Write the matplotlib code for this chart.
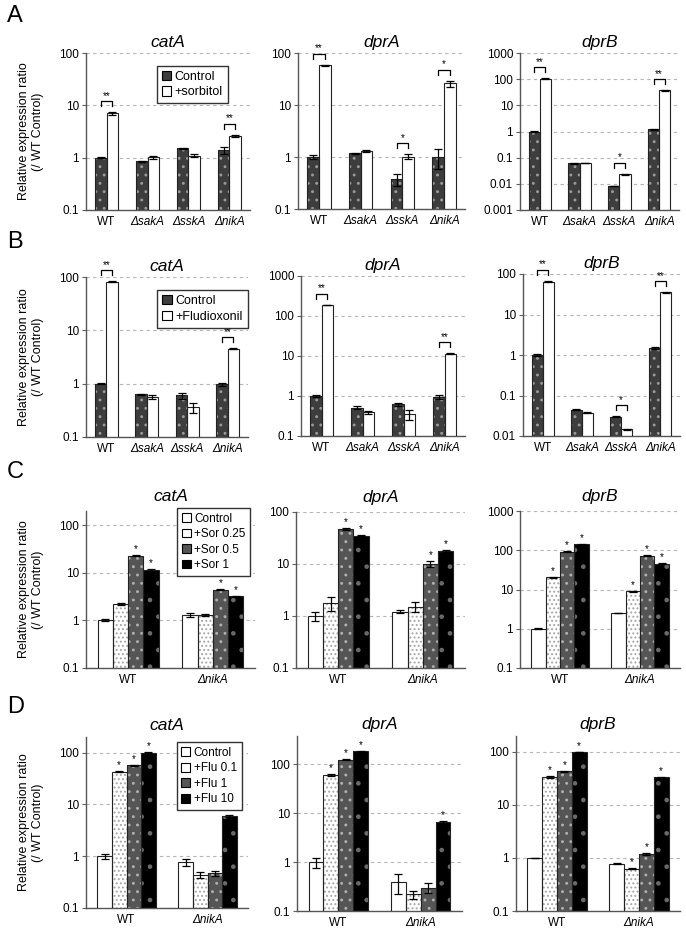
import numpy as np
import matplotlib
matplotlib.use('Agg')
from matplotlib import pyplot as plt
from matplotlib.patches import Patch
from matplotlib.ticker import FixedLocator, FuncFormatter

plt.rcParams['font.family'] = ['Liberation Sans', 'DejaVu Sans']
plt.rcParams['hatch.linewidth'] = 0.9

W, H = 686, 932

# ---------------- data ----------------
genesAB = ['WT', 'ΔsakA', 'ΔsskA', 'ΔnikA']
genesCD = ['WT', 'ΔnikA']
genes = ['catA', 'dprA', 'dprB']

# A: control vs +sorbitol
A_ctrl = {'catA': [1.0, 0.85, 1.5, 1.4], 'dprA': [1.0, 1.18, 0.38, 1.0], 'dprB': [1.0, 0.061, 0.0083, 1.22]}
A_ctrl_err = {'catA': [0.03, 0.02, 0.04, 0.2], 'dprA': [0.08, 0.03, 0.1, 0.4], 'dprB': [0.05, 0.003, 0.0003, 0.03]}
A_trt = {'catA': [7.0, 1.02, 1.08, 2.6], 'dprA': [58, 1.32, 1.02, 26], 'dprB': [105, 0.062, 0.023, 37]}
A_trt_err = {'catA': [0.35, 0.08, 0.07, 0.15], 'dprA': [2, 0.05, 0.1, 3.5], 'dprB': [2, 0.001, 0.001, 1]}
A_sig = {'catA': ['**', '', '', '**'], 'dprA': ['**', '', '*', '*'], 'dprB': ['**', '', '*', '**']}

# B: control vs +fludioxonil
B_ctrl = {'catA': [1.0, 0.63, 0.6, 0.97], 'dprA': [1.0, 0.51, 0.62, 0.95], 'dprB': [1.0, 0.045, 0.030, 1.5]}
B_ctrl_err = {'catA': [0.03, 0.02, 0.08, 0.07], 'dprA': [0.04, 0.05, 0.06, 0.1], 'dprB': [0.05, 0.002, 0.001, 0.1]}
B_trt = {'catA': [82, 0.56, 0.36, 4.5], 'dprA': [190, 0.39, 0.35, 11.5], 'dprB': [65, 0.038, 0.0145, 35]}
B_trt_err = {'catA': [1, 0.05, 0.08, 0.1], 'dprA': [3, 0.04, 0.1, 0.2], 'dprB': [2, 0.001, 0.0003, 0.5]}
B_sig = {'catA': ['**', '', '', '**'], 'dprA': ['**', '', '', '**'], 'dprB': ['**', '', '*', '**']}

# C: sorbitol doses (rows = WT, nikA; cols = Control, 0.25, 0.5, 1)
C_labels = ['Control', '+Sor 0.25', '+Sor 0.5', '+Sor 1']
C_val = {'catA': [[1.0, 2.2, 23, 11.5], [1.3, 1.3, 4.4, 3.2]],
         'dprA': [[1.0, 1.8, 47, 35], [1.2, 1.5, 10, 17.5]],
         'dprB': [[1.0, 20.5, 92, 141], [2.5, 9, 73, 45]]}
C_err = {'catA': [[0.05, 0.1, 0.8, 0.3], [0.12, 0.08, 0.1, 0.05]],
         'dprA': [[0.2, 0.55, 2, 1.2], [0.08, 0.33, 1.2, 0.7]],
         'dprB': [[0.03, 0.8, 3, 4], [0.05, 0.3, 2, 1.5]]}
C_sig = {'catA': [[0, 0, 1, 1], [0, 0, 1, 1]],
         'dprA': [[0, 0, 1, 1], [0, 0, 1, 1]],
         'dprB': [[0, 1, 1, 1], [0, 1, 1, 1]]}

# D: fludioxonil doses
D_labels = ['Control', '+Flu 0.1', '+Flu 1', '+Flu 10']
D_val = {'catA': [[1.0, 43, 57, 100], [0.76, 0.44, 0.47, 6.0]],
         'dprA': [[1.0, 60, 125, 185], [0.4, 0.22, 0.3, 6.6]],
         'dprB': [[1.0, 34, 43, 100], [0.78, 0.63, 1.2, 33]]}
D_err = {'catA': [[0.1, 1, 1.5, 2], [0.12, 0.06, 0.05, 0.3]],
         'dprA': [[0.23, 2, 4, 3], [0.18, 0.04, 0.07, 0.2]],
         'dprB': [[0.02, 1.5, 1, 1], [0.02, 0.02, 0.05, 1]]}
D_sig = {'catA': [[0, 1, 1, 1], [0, 0, 0, 1]],
         'dprA': [[0, 1, 1, 1], [0, 0, 0, 1]],
         'dprB': [[0, 1, 1, 1], [0, 1, 1, 1]]}

ylims = {'A': [(0.1, 100), (0.1, 100), (0.001, 1000)],
         'B': [(0.1, 100), (0.1, 1000), (0.01, 100)],
         'C': [(0.1, 200), (0.1, 100), (0.1, 1000)],
         'D': [(0.1, 200), (0.1, 380), (0.1, 200)]}

# axes boxes in pixels: x0, x1, ytop, ybottom
boxes = {'A': [(86, 250, 53, 210), (298, 465, 53, 209), (520, 679, 53, 210)],
         'B': [(86, 248, 277, 437), (301, 465, 276, 436), (523, 680, 274, 436)],
         'C': [(86, 255, 511, 668), (296, 465, 512, 668), (520, 680, 511, 668)],
         'D': [(86, 248, 737, 908), (297, 462, 736, 911), (516, 680, 736, 911)]}

# styles: face, hatch, hatch colour
DARK = ('#3d3d3d', '..', '#9a9a9a')
WHITE = ('white', None, 'white')
dose_styles = [WHITE, ('white', '....', '#a5a5a5'), ('#555555', '..', '#b0b0b0'), ('black', '.', '#6a6a6a')]


def add_ax(box):
    x0, x1, yt, yb = box
    return fig.add_axes([x0 / W, 1 - yb / H, (x1 - x0) / W, (yb - yt) / H])


def style_ax(ax, lim, xlabels):
    ax.set_yscale('log')
    ax.set_ylim(*lim)
    lo, hi = np.log10(lim[0]), np.log10(lim[1])
    ticks = [10.0 ** k for k in range(int(np.round(lo)), int(np.floor(hi + 1e-9)) + 1)]
    ax.yaxis.set_major_locator(FixedLocator(ticks))
    ax.yaxis.set_minor_locator(FixedLocator([]))
    ax.yaxis.set_major_formatter(FuncFormatter(lambda v, p: '%g' % v))
    ax.tick_params(axis='y', labelsize=8.5, length=3, color='#606060', width=0.8, pad=2)
    ax.tick_params(axis='x', length=0, labelsize=8.5, pad=4)
    ax.set_xticks(range(len(xlabels)))
    ax.set_xticklabels(xlabels)
    for t in ax.get_xticklabels():
        if t.get_text() != 'WT':
            t.set_fontstyle('italic')
    ax.set_xlim(-0.5, len(xlabels) - 0.5)
    for s in ['top', 'right']:
        ax.spines[s].set_visible(False)
    for s in ['left', 'bottom']:
        ax.spines[s].set_color('#555555')
        ax.spines[s].set_linewidth(1.0)
    ax.yaxis.grid(True, ls=(0, (3, 3)), color='#b5b5b5', lw=0.8)
    ax.set_axisbelow(True)


def draw_bar(ax, x, v, e, w, st):
    face, hatch, hc = st
    ax.bar(x, v, w, color=face, edgecolor=hc, hatch=hatch, linewidth=0, zorder=2)
    ax.bar(x, v, w, fill=False, edgecolor='#222222', linewidth=0.8, zorder=3)
    ax.errorbar(x, v, yerr=e, fmt='none', ecolor='black', elinewidth=0.9,
                capsize=3, capthick=0.9, zorder=4)


def dpp(ax, lim):
    hpx = ax.get_position().height * H
    return (np.log10(lim[1]) - np.log10(lim[0])) / hpx


def make_legend(ax, handles, pos, fs):
    ax.legend(handles=handles, loc='upper left', bbox_to_anchor=pos,
              fontsize=fs, handlelength=0.75, handleheight=0.75, handletextpad=0.3,
              borderpad=0.4, labelspacing=0.3, borderaxespad=0, fancybox=False,
              edgecolor='#333333', framealpha=1)


fig = plt.figure(figsize=(W / 100, H / 100), dpi=100)

# ---- rows A and B ----
for row, ctrl, ce, trt, te, sig, tlabel, lpos in [
        ('A', A_ctrl, A_ctrl_err, A_trt, A_trt_err, A_sig, '+sorbitol', (0.43, 0.92)),
        ('B', B_ctrl, B_ctrl_err, B_trt, B_trt_err, B_sig, '+Fludioxonil', (0.44, 0.92))]:
    for j, g in enumerate(genes):
        ax = add_ax(boxes[row][j])
        lim = ylims[row][j]
        style_ax(ax, lim, genesAB)
        w = 0.28
        x = np.arange(len(genesAB))
        draw_bar(ax, x - w / 2, ctrl[g], ce[g], w, DARK)
        draw_bar(ax, x + w / 2, trt[g], te[g], w, WHITE)
        k = dpp(ax, lim)
        for i, s in enumerate(sig[g]):
            if not s:
                continue
            top = max(ctrl[g][i] + ce[g][i], trt[g][i] + te[g][i])
            yb = top * 10 ** (k * 11)
            yl = yb * 10 ** (-k * 5)
            ax.plot([x[i] - w / 2, x[i] - w / 2, x[i] + w / 2, x[i] + w / 2],
                    [yl, yb, yb, yl], color='black', lw=0.9, clip_on=False, zorder=5)
            ax.text(x[i], yb * 10 ** (k * 0.5), s, ha='center', va='bottom', fontsize=7)
        ax.set_title(g, style='italic', fontsize=12.5, pad=4)
        if j == 0:
            handles = [Patch(facecolor=DARK[0], edgecolor='black', lw=0.8, label='Control'),
                       Patch(facecolor='white', edgecolor='black', lw=0.8, label=tlabel)]
            make_legend(ax, handles, lpos, 9)

# ---- rows C and D ----
for row, val, err, sig, labels, lpos in [
        ('C', C_val, C_err, C_sig, C_labels, (0.54, 1.02)),
        ('D', D_val, D_err, D_sig, D_labels, (0.56, 0.97))]:
    for j, g in enumerate(genes):
        ax = add_ax(boxes[row][j])
        lim = ylims[row][j]
        style_ax(ax, lim, genesCD)
        w = 0.18
        k = dpp(ax, lim)
        for gi in range(len(genesCD)):
            for si in range(4):
                xx = gi + (si - 1.5) * w
                v = val[g][gi][si]
                e = err[g][gi][si]
                draw_bar(ax, [xx], [v], [e], w, dose_styles[si])
                if sig[g][gi][si]:
                    ax.text(xx, (v + e) * 10 ** (k * 1), '*', ha='center', va='bottom', fontsize=7)
        ax.set_title(g, style='italic', fontsize=12.5, pad=7 if row == 'C' else 5)
        if j == 0:
            handles = [Patch(facecolor=st[0], edgecolor='black', lw=0.8, label=lb)
                       for st, lb in zip(dose_styles, labels)]
            make_legend(ax, handles, lpos, 8.5)

# y labels and panel letters
for row in ['A', 'B', 'C', 'D']:
    x0, x1, yt, yb = boxes[row][0]
    fig.text(31 / W, 1 - (yt + yb) / 2 / H, 'Relative expression ratio\n(/ WT Control)',
             rotation=90, ha='center', va='center', fontsize=9, multialignment='center',
             linespacing=1.3)
letters = {'A': 5, 'B': 231, 'C': 461, 'D': 696}
for lt, y in letters.items():
    fig.text(7 / W, 1 - y / H, lt, ha='left', va='top', fontsize=17)

plt.savefig('out.png', dpi=100)
